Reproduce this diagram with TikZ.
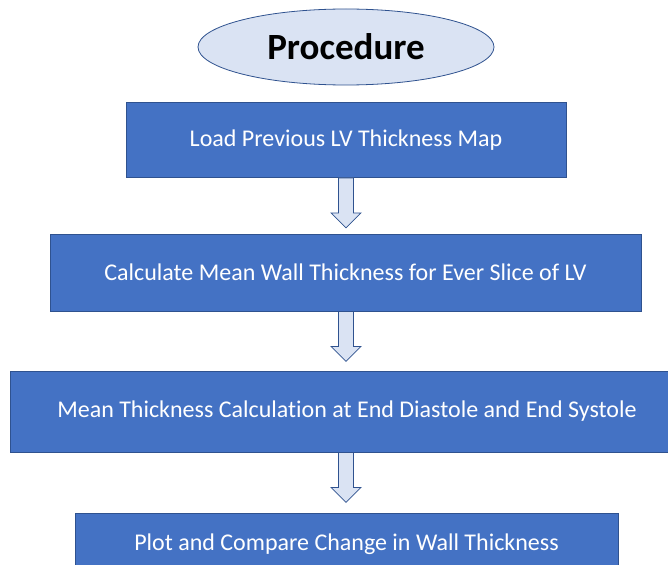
\documentclass[tikz,border=0pt]{standalone}
\usepackage{fontspec}
\setmainfont{Carlito}[Ligatures=NoCommon]
\usetikzlibrary{calc,shapes.geometric}
\definecolor{boxfill}{HTML}{4472C4}
\definecolor{boxline}{HTML}{2F528F}
\definecolor{lightfill}{HTML}{DAE3F3}
\tikzset{
  stepbox/.style={draw=boxline, line width=0.8pt, fill=boxfill, text=white,
    inner sep=0pt, font=\fontsize{24}{28}\selectfont},
  titleell/.style={ellipse, draw=boxline, line width=0.8pt, fill=lightfill,
    inner sep=0pt, minimum width=296pt, minimum height=76pt,
    font=\fontsize{37}{42}\selectfont\bfseries},
  blockarr/.style={draw=boxline, line width=0.7pt, fill=lightfill, line join=miter}
}
\newcommand\blockarrow[1]{%
  \draw[blockarr] let \p1=(title.south), \p2=(#1.south) in
    (\x1-7.5pt,\y2) -- (\x1+7.5pt,\y2) -- (\x1+7.5pt,\y2-35pt) -- (\x1+15pt,\y2-35pt)
    -- (\x1,\y2-50pt) -- (\x1-15pt,\y2-35pt) -- (\x1-7.5pt,\y2-35pt) -- cycle;}
\begin{document}
\begin{tikzpicture}[x=1pt,y=-1pt]
\useasboundingbox (0,0) rectangle (668,564);
\clip (0,0) rectangle (668,564);
\node[titleell] (title) at (346,47) {Procedure};
\node[stepbox, minimum width=440pt, minimum height=75pt] (b1) at (346,140) {Load Previous LV Thickness Map};
\node[stepbox, minimum width=591pt, minimum height=77pt] (b2) at (345.5,272.5) {Calculate Mean Wall Thickness for Ever Slice of LV};
\node[stepbox, minimum width=674pt, minimum height=81pt] (b3) at (347,411.5) {Mean Thickness Calculation at End Diastole and End Systole};
\node[stepbox, minimum width=543pt, minimum height=62pt] (b4) at (346.5,544) {Plot and Compare Change in Wall Thickness};
\blockarrow{b1}
\blockarrow{b2}
\blockarrow{b3}
\end{tikzpicture}
\end{document}
